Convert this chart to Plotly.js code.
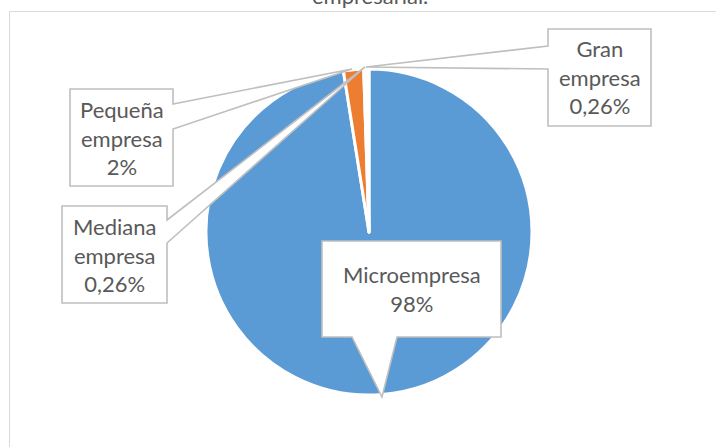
<!DOCTYPE html>
<html>
<head>
<meta charset="utf-8">
<script src="https://cdn.plot.ly/plotly-3.0.1.min.js"></script>
<style>html,body{margin:0;padding:0;background:#fff;}#chart{width:716px;height:447px;}</style>
</head>
<body>
<div id="chart"></div>
<script>
// ---- data ----
const categories = ['Microempresa', 'Pequeña empresa', 'Mediana empresa', 'Gran empresa'];
const shares = [98, 2, 0.26, 0.26];
const shareLabels = ['98%', '2%', '0,26%', '0,26%'];
const titleText = 'empresarial.';

// ---- layout helpers ----
const W = 716, H = 447;
const px = (x) => x / W;
const py = (y) => 1 - y / H;
function path(pts) {
  return pts.map((p, i) => (i === 0 ? 'M' : 'L') + px(p[0]).toFixed(5) + ',' + py(p[1]).toFixed(5)).join(' ') + ' Z';
}

const textColor = '#595959';
const font = {family: 'Lato, "Open Sans", sans-serif', size: 22, color: textColor};
const calloutLine = {color: '#bfbfbf', width: 1.6};

// callout outlines (box + wedge pointer), in pixel positions
const callouts = [
  // Pequeña
  [[70,89],[173,89],[173,104],[352,69],[173,129],[173,186],[70,186]],
  // Mediana
  [[62,206],[167,206],[167,220],[365,67],[167,243],[167,303],[62,303]],
  // Gran
  [[548,29],[651,29],[651,126],[548,126],[548,69],[366,67],[548,46]],
  // Micro
  [[322,241],[501,241],[501,337],[397,337],[382,397],[352,337],[322,337]]
];
// label centres (pixels) for each category
const labelCentres = [[411.5, 289], [121.5, 137.5], [114.5, 254.5], [599.5, 77.5]];

const shapes = [
  {type: 'rect', xref: 'paper', yref: 'paper', x0: px(9.5), x1: px(730), y0: py(460), y1: py(11.5),
   line: {color: '#d9d9d9', width: 1}, fillcolor: 'rgba(0,0,0,0)', layer: 'below'}
];
callouts.forEach(pts => shapes.push({type: 'path', xref: 'paper', yref: 'paper', path: path(pts),
  fillcolor: '#ffffff', line: calloutLine, layer: 'above'}));

const annotations = categories.map((c, i) => {
  const name = i === 0 ? c : c.replace(' ', '<br>');
  return {
    xref: 'paper', yref: 'paper', x: px(labelCentres[i][0]), y: py(labelCentres[i][1]),
    xanchor: 'center', yanchor: 'middle', showarrow: false,
    text: name + '<br>' + shareLabels[i], font: font, align: 'center'
  };
});
annotations.push({xref: 'paper', yref: 'paper', x: px(370), y: py(-5), xanchor: 'center', yanchor: 'middle',
  showarrow: false, text: titleText, font: {family: font.family, size: 22, color: textColor}});

const trace = {
  type: 'pie',
  labels: categories,
  values: shares,
  sort: false,
  direction: 'clockwise',
  rotation: 0,
  textinfo: 'none',
  hoverinfo: 'label+percent',
  marker: {colors: ['#5B9BD5', '#ED7D31', '#A5A5A5', '#FFC000'], line: {color: '#ffffff', width: 3}},
  domain: {x: [px(206), px(532)], y: [py(395), py(69)]},
  showlegend: false
};

const layout = {
  width: W, height: H,
  margin: {l: 0, r: 0, t: 0, b: 0},
  paper_bgcolor: '#ffffff',
  plot_bgcolor: '#ffffff',
  showlegend: false,
  shapes: shapes,
  annotations: annotations
};

Plotly.newPlot('chart', [trace], layout, {displayModeBar: false, staticPlot: true});
</script>
</body>
</html>
